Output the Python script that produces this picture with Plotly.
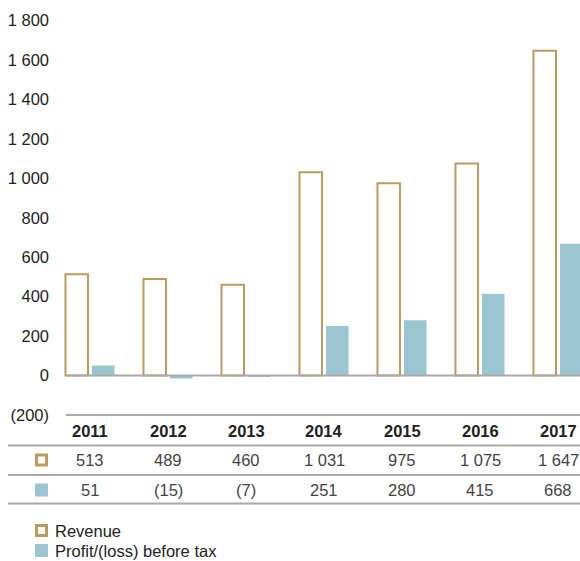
import plotly.graph_objects as go

# Data
years = ["2011", "2012", "2013", "2014", "2015", "2016", "2017"]
revenue = [513, 489, 460, 1031, 975, 1075, 1647]
profit = [51, -15, -7, 251, 280, 415, 668]
y_ticks = [-200, 0, 200, 400, 600, 800, 1000, 1200, 1400, 1600, 1800]

GOLD = "#bc9b5d"
BLUE = "#9bc6d1"
GRID = "#aaaaaa"
TEXT = "#222222"
VAL = "#444444"
FONT = "Liberation Sans, Arial, sans-serif"
FS = 16.5

W, H = 580, 561
ML, MB = 64, 145
PLOT_H = H - MB


def fmt(v):
    s = f"{abs(v):,}".replace(",", " ")
    return f"({s})" if v < 0 else s


def px_x(X):
    return (X - ML) / (W - ML)


def px_y(Y):
    return (PLOT_H - Y) / PLOT_H


xs = list(range(len(years)))

fig = go.Figure()
fig.add_trace(go.Bar(
    x=xs, y=revenue, name="Revenue",
    marker=dict(color="white", line=dict(color=GOLD, width=2)),
))
fig.add_trace(go.Bar(
    x=xs, y=profit, name="Profit/(loss) before tax",
    marker=dict(color=BLUE, line=dict(width=0)),
))

shapes = []
# zero line and bottom line of the chart area
for val in (0, -200):
    shapes.append(dict(type="line", xref="paper", yref="y",
                       x0=px_x(66), x1=1, y0=val, y1=val,
                       line=dict(color=GRID, width=2), layer="above"))
# table rules
for Y in (445.5, 475, 503.5):
    shapes.append(dict(type="line", xref="paper", yref="paper",
                       x0=px_x(8), x1=1, y0=px_y(Y), y1=px_y(Y),
                       line=dict(color=GRID, width=2)))

# table row icons and legend icons
def icon(x0, y0, size, filled):
    if filled:
        return dict(type="rect", xref="paper", yref="paper",
                    x0=px_x(x0), x1=px_x(x0 + size),
                    y0=px_y(y0), y1=px_y(y0 + size),
                    fillcolor=BLUE, line=dict(width=0))
    return dict(type="rect", xref="paper", yref="paper",
                x0=px_x(x0 + 1.5), x1=px_x(x0 + size - 1.5),
                y0=px_y(y0 + 1.5), y1=px_y(y0 + size - 1.5),
                fillcolor="white", line=dict(color=GOLD, width=3))

shapes += [icon(35, 453.5, 13, False), icon(35, 483.5, 13, True),
           icon(35, 524, 13, False), icon(35, 544, 13, True)]

annotations = []
for i, yr in enumerate(years):
    annotations.append(dict(x=i, y=px_y(431), xref="x", yref="paper",
                            yanchor="middle", xanchor="center",
                            text=f"<b>{yr}</b>", showarrow=False,
                            font=dict(family=FONT, size=FS, color=TEXT)))
    annotations.append(dict(x=i, y=px_y(460), xref="x", yref="paper",
                            yanchor="middle", xanchor="center",
                            text=fmt(revenue[i]), showarrow=False,
                            font=dict(family=FONT, size=FS, color=VAL)))
    annotations.append(dict(x=i, y=px_y(490), xref="x", yref="paper",
                            yanchor="middle", xanchor="center",
                            text=fmt(profit[i]), showarrow=False,
                            font=dict(family=FONT, size=FS, color=VAL)))

for Y, label in ((530.5, "Revenue"), (550.5, "Profit/(loss) before tax")):
    annotations.append(dict(x=px_x(53), y=px_y(Y), xref="paper", yref="paper",
                            xanchor="left", yanchor="middle",
                            text=label, showarrow=False,
                            font=dict(family=FONT, size=FS, color=TEXT)))

fig.update_layout(
    width=W, height=H,
    margin=dict(l=ML, r=0, t=0, b=MB, pad=0),
    paper_bgcolor="white", plot_bgcolor="white",
    barmode="group", bargap=0.32, bargroupgap=0.15,
    showlegend=False,
    xaxis=dict(range=[-(90 - ML) / 78, (W - 90) / 78],
               showticklabels=False, showgrid=False, zeroline=False,
               showline=False, ticks=""),
    yaxis=dict(range=[-205, 1904], tickvals=y_ticks,
               ticktext=[fmt(v) for v in y_ticks],
               showgrid=False, zeroline=False, showline=False, ticks="",
               ticklabelstandoff=14,
               tickfont=dict(family=FONT, size=FS, color=TEXT)),
    shapes=shapes, annotations=annotations,
)

fig.write_html("out.html")
